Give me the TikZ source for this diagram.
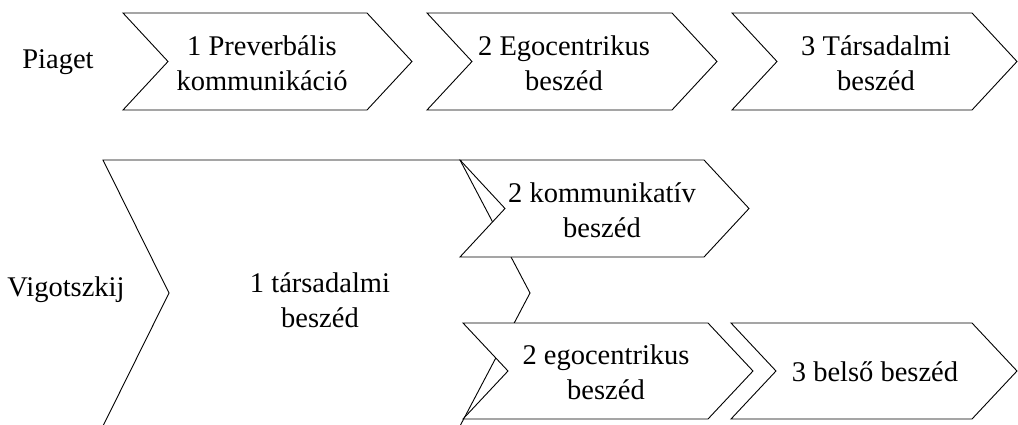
\documentclass[tikz,border=0pt]{standalone}
\usepackage{fontspec}
\setmainfont{Liberation Serif}
\begin{document}
\begin{tikzpicture}[x=1pt,y=-1pt,
  chevline/.style={draw=black,line width=0.9pt,line join=miter,fill=white},
  lbl/.style={align=center,inner sep=0pt,font=\fontsize{28.5}{35}\selectfont}]
% chevron: left x, right x, top y, bottom y, notch depth, tip depth
\newcommand\chevshape[6]{%
  \path[chevline] (#1,#3) -- ({#2-#6},#3) -- (#2,{(#3+#4)/2}) -- ({#2-#6},#4)
    -- (#1,#4) -- ({#1+#5},{(#3+#4)/2}) -- cycle;}
\useasboundingbox (0,0) rectangle (1018,425);
\begin{scope}
\clip (0,0) rectangle (1018,425);
% Piaget row
\chevshape{123}{412}{13}{110}{45}{45}
\chevshape{427}{717}{13}{110}{45}{45}
\chevshape{732}{1017}{13}{110}{45}{45}
% Vigotszkij row
\chevshape{103}{530}{160}{426}{66}{70}
\chevshape{460}{749}{160}{257}{45}{45}
\chevshape{463}{753}{323}{419}{45}{45}
\chevshape{731}{1017}{323}{419}{45}{45}
\end{scope}
% labels
\node[lbl] (piaget) at (58,62) {Piaget};
\node[lbl] (vig) at (66,290) {Vigotszkij};
\node[lbl] (p1) at (262,63) {1 Preverbális\\kommunikáció};
\node[lbl] (p2) at (564,63) {2 Egocentrikus\\beszéd};
\node[lbl] (p3) at (876,63) {3 Társadalmi\\beszéd};
\node[lbl] (v1) at (320,300) {1 társadalmi\\beszéd};
\node[lbl] (v2a) at (602,210) {2 kommunikatív\\beszéd};
\node[lbl] (v2b) at (606,372) {2 egocentrikus\\beszéd};
\node[lbl] (v3) at (875,372) {3 belső beszéd};
\end{tikzpicture}
\end{document}
